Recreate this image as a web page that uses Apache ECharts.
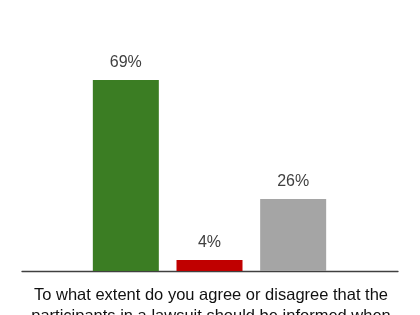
<!DOCTYPE html>
<html>
<head>
<meta charset="utf-8">
<script src="https://cdn.jsdelivr.net/npm/echarts@6/dist/echarts.min.js"></script>
<style>html,body{margin:0;padding:0;background:#fff;}#c{width:420px;height:315px;}</style>
</head>
<body>
<div id="c"></div>
<script>
var categories = ['Agree', 'Disagree', 'Neither'];
var values = [69, 4, 26];
var barColors = ['#3B7D23', '#C00000', '#A5A5A5'];
var questionText = 'To what extent do you agree or disagree that the\nparticipants in a lawsuit should be informed when';

var chart = echarts.init(document.getElementById('c'), null, {renderer: 'canvas'});
chart.setOption({
  animation: false,
  title: {
    text: questionText,
    left: 206,
    top: 280,
    textAlign: 'center',
    textStyle: {fontFamily: 'Liberation Sans', fontSize: 16.5, fontWeight: 'normal', color: '#111', lineHeight: 21}
  },
  grid: [
    {left: 84, right: 85, top: 49.6, bottom: 44},
    {left: 22, right: 22, top: 49.6, bottom: 44}
  ],
  xAxis: [
    {type: 'category', gridIndex: 0, data: categories, axisLine: {show: false}, axisTick: {show: false}, axisLabel: {show: false}},
    {type: 'category', gridIndex: 1, data: [''], axisLine: {show: true, lineStyle: {color: '#404040', width: 1.3}}, axisTick: {show: false}, axisLabel: {show: false}}
  ],
  yAxis: [
    {type: 'value', gridIndex: 0, min: 0, max: 80, show: false, splitLine: {show: false}},
    {type: 'value', gridIndex: 1, min: 0, max: 80, show: false, splitLine: {show: false}}
  ],
  series: [{
    type: 'bar',
    xAxisIndex: 0, yAxisIndex: 0,
    barWidth: 66,
    data: values.map(function (v, i) { return {value: v, itemStyle: {color: barColors[i]}}; }),
    label: {
      show: true, position: 'top', distance: 9,
      formatter: '{c}%',
      fontFamily: 'Liberation Sans', fontSize: 16, color: '#404040'
    }
  }]
});
</script>
</body>
</html>
